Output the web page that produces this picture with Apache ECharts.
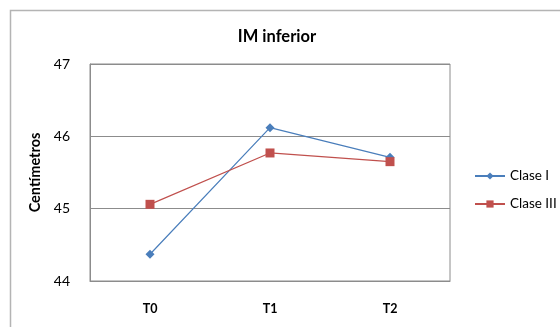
<!DOCTYPE html>
<html>
<head>
<meta charset="utf-8">
<script src="https://cdn.jsdelivr.net/npm/echarts@6/dist/echarts.min.js"></script>
<style>
  html, body { margin: 0; padding: 0; background: #fff; }
  #chart { width: 560px; height: 327px; }
</style>
</head>
<body>
<div id="chart"></div>
<script>
// Measurement times and series values (cm)
const categories = ['T0', 'T1', 'T2'];
const claseI = [44.37, 46.12, 45.71];
const claseIII = [45.06, 45.77, 45.65];
const yTicks = { min: 44, max: 47, interval: 1 };

const FONT = 'Lato, "Open Sans", sans-serif';
const chart = echarts.init(document.getElementById('chart'));

chart.setOption({
  animation: false,
  textStyle: { fontFamily: FONT },
  title: {
    text: 'IM inferior',
    left: 272,
    textAlign: 'center',
    top: 23,
    textStyle: { fontFamily: FONT, fontSize: 16.5, fontWeight: 'bold', color: '#000' }
  },
  graphic: [{
    type: 'rect',
    shape: { x: 10.5, y: 10.5, width: 560, height: 330 },
    style: { fill: 'none', stroke: '#b4b4b4', lineWidth: 1.5 },
    silent: true
  }],
  grid: { left: 90, right: 110, top: 64, bottom: 46, show: true, borderColor: '#8c8c8c', borderWidth: 1 },
  legend: {
    orient: 'vertical',
    left: 469,
    top: 164,
    itemWidth: 30,
    itemHeight: 9,
    itemGap: 14,
    textStyle: { fontFamily: FONT, fontSize: 13.5, color: '#000' },
    data: ['Clase I', 'Clase III']
  },
  xAxis: {
    type: 'category',
    data: categories,
    axisLine: { show: true, lineStyle: { color: '#8c8c8c' } },
    axisTick: { show: false },
    axisLabel: { fontFamily: FONT, fontWeight: 'bold', fontSize: 12.5, color: '#000', margin: 21 }
  },
  yAxis: {
    type: 'value',
    min: yTicks.min,
    max: yTicks.max,
    interval: yTicks.interval,
    name: 'Centímetros',
    nameLocation: 'middle',
    nameGap: 43,
    nameTextStyle: { fontFamily: FONT, fontWeight: 'bold', fontSize: 14.5, color: '#000' },
    axisLine: { show: true, lineStyle: { color: '#8c8c8c' } },
    axisTick: { show: false },
    axisLabel: { fontFamily: FONT, fontSize: 14, color: '#000', margin: 20 },
    splitLine: { lineStyle: { color: '#8c8c8c', width: 1 } }
  },
  series: [
    {
      name: 'Clase I',
      type: 'line',
      data: claseI,
      symbol: 'diamond',
      symbolSize: 9,
      lineStyle: { color: '#4a7ebb', width: 1.2 },
      itemStyle: { color: '#4a7ebb' }
    },
    {
      name: 'Clase III',
      type: 'line',
      data: claseIII,
      symbol: 'rect',
      symbolSize: 9,
      lineStyle: { color: '#c0504d', width: 1.2 },
      itemStyle: { color: '#c0504d' }
    }
  ]
});
</script>
</body>
</html>
